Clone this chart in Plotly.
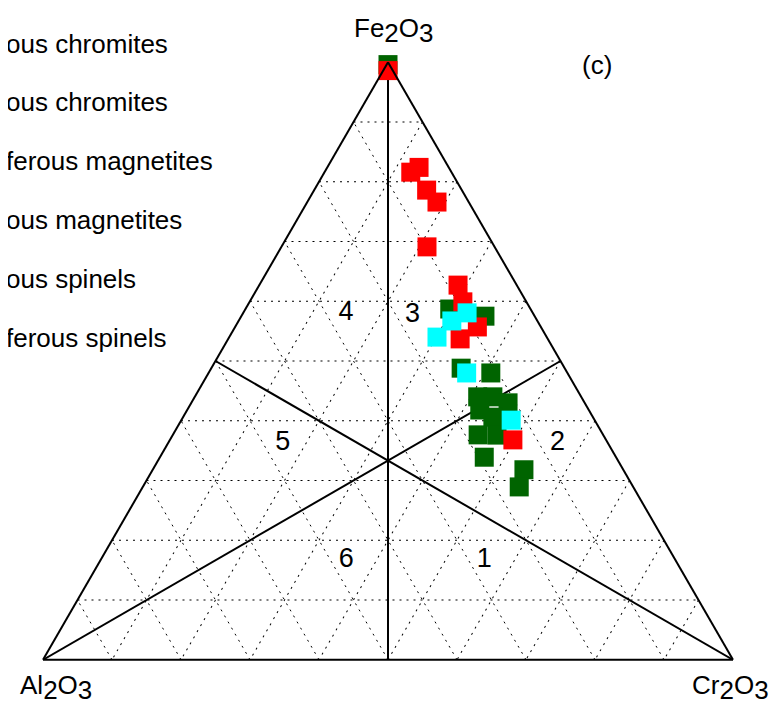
import plotly.graph_objects as go

# ---- data (percent Fe2O3, Al2O3, Cr2O3) ----
red_fe = [98.6, 81.6, 82.4, 78.6, 76.6, 69.1, 62.7, 59.9, 55.7, 53.7, 36.8]
red_al = [0.7, 5.9, 4.3, 5.1, 4.6, 9.8, 8.5, 9.2, 9.2, 12.7, 13.5]
red_cr = [0.7, 12.5, 13.3, 16.3, 18.8, 21.1, 28.8, 30.9, 35.1, 33.6, 49.7]

green_fe = [99.6, 58.7, 57.5, 48.8, 48.0, 44.0, 44.0, 43.0, 41.8, 40.6, 37.6, 37.6, 33.9, 31.8, 28.9]
green_al = [0.2, 11.7, 7.2, 15.0, 11.1, 15.0, 12.8, 11.1, 15.8, 14.5, 18.1, 15.4, 19.1, 14.4, 16.5]
green_cr = [0.2, 29.6, 35.3, 36.2, 40.9, 41.0, 43.2, 45.9, 42.4, 44.9, 44.2, 47.0, 47.0, 53.8, 54.5]

cyan_fe = [54.0, 56.7, 58.0, 48.0, 40.1]
cyan_al = [15.9, 12.4, 9.5, 14.6, 12.1]
cyan_cr = [30.1, 30.9, 32.4, 37.4, 47.8]

legend_names = ["ous chromites", "ous chromites", "ferous magnetites",
                "ous magnetites", "ous spinels", "ferous spinels"]

# field boundaries (medians): vertex -> midpoint of opposite side
median_fe = [[100, 0], [0, 50], [0, 50]]
median_al = [[0, 50], [100, 0], [0, 50]]
median_cr = [[0, 50], [0, 50], [100, 0]]

region_labels = ["1", "2", "3", "4", "5", "6"]
region_fe = [16.7, 36.3, 57.7, 58.0, 36.3, 16.7]
region_al = [27.7, 7.3, 17.6, 27.1, 47.1, 47.7]
region_cr = [55.6, 56.4, 24.7, 14.9, 16.6, 35.6]

FONT = "Arial, Liberation Sans, Helvetica, sans-serif"
W, H = 781, 706
OFF = 8  # page body margin


def px(x):
    return (x - OFF) / W


def py(y):
    return 1 - (y - OFF) / H


fig = go.Figure()

for fe, al, cr in zip(median_fe, median_al, median_cr):
    fig.add_trace(go.Scatterternary(a=fe, b=al, c=cr, mode="lines",
                                    line=dict(color="black", width=2),
                                    showlegend=False, hoverinfo="skip"))

series = {
    0: ("#006400", green_fe, green_al, green_cr),
    2: ("#FF0000", red_fe, red_al, red_cr),
    4: ("#00FFFF", cyan_fe, cyan_al, cyan_cr),
}
other_colors = ["#006400", "#0000FF", "#FF0000", "#FF00FF", "#00FFFF", "#FFA500"]
for i, name in enumerate(legend_names):
    if i in series:
        col, fe, al, cr = series[i]
    else:
        col, fe, al, cr = other_colors[i], [None], [None], [None]
    fig.add_trace(go.Scatterternary(
        a=fe, b=al, c=cr, mode="markers", name=name,
        legendgroup=f"g{i}", cliponaxis=False,
        marker=dict(symbol="square", size=19, color=col, line=dict(width=0)),
    ))

fig.add_trace(go.Scatterternary(a=region_fe, b=region_al, c=region_cr,
                                mode="text", text=region_labels,
                                textfont=dict(size=27, color="black", family=FONT),
                                showlegend=False, hoverinfo="skip"))

axis_common = dict(
    min=0, dtick=10, showticklabels=False, ticks="", title=dict(text=""),
    showgrid=True, gridcolor="black", gridwidth=1, griddash="2px,5px",
    showline=True, linecolor="black", linewidth=2,
)


def chem(a):
    s = 'style="font-size:26px"'
    return f'{a}<sub><span {s}>2</span></sub>O<sub><span {s}>3</span></sub>'


fig.update_layout(
    width=W, height=H,
    margin=dict(l=0, r=0, t=0, b=0, autoexpand=False),
    paper_bgcolor="white",
    font=dict(family=FONT, color="black"),
    ternary=dict(
        sum=100,
        bgcolor="white",
        domain=dict(x=[px(43), px(733)], y=[py(660), py(62)]),
        aaxis=axis_common, baxis=axis_common, caxis=axis_common,
    ),
    legend=dict(x=-42 / W, y=1 - 11 / H, xanchor="left", yanchor="top",
                font=dict(size=26, family=FONT), bgcolor="rgba(0,0,0,0)",
                tracegroupgap=22, traceorder="grouped"),
    annotations=[
        dict(text="(c)", x=px(597), y=py(65)),
        dict(text=chem("Fe"), x=px(394), y=py(31)),
        dict(text=chem("Al"), x=px(56), y=py(687)),
        dict(text=chem("Cr"), x=px(730), y=py(687)),
    ],
)
fig.update_annotations(xref="paper", yref="paper", showarrow=False,
                       xanchor="center", yanchor="middle",
                       font=dict(size=26, family=FONT, color="black"))

fig.write_html("out.html")
